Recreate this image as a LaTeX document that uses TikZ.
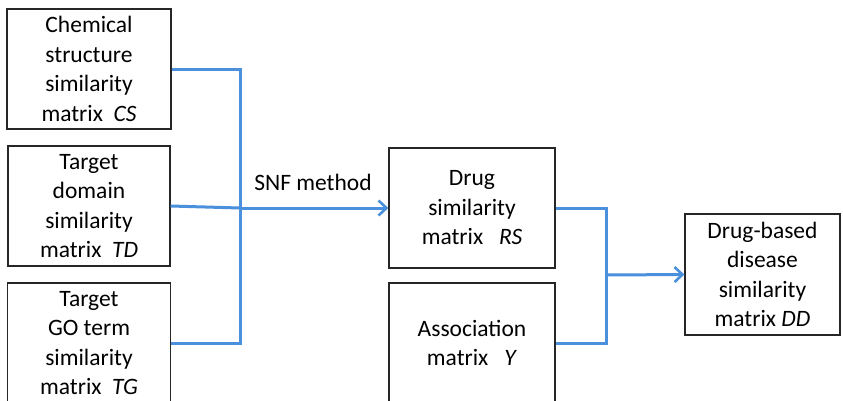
\documentclass[tikz,border=0pt]{standalone}
\usepackage{fontspec}
\setmainfont{Carlito}
\usetikzlibrary{arrows.meta}
\definecolor{linkblue}{HTML}{4A90DC}
\tikzset{
  box/.style={draw=black!85, line width=1.2pt, rectangle, inner sep=0pt, align=center,
    font=\fontsize{23.5}{29.5}\selectfont},
  conn/.style={draw=linkblue, line width=3pt},
  arr/.style={conn, -{Straight Barb[length=8pt,width=15pt,line width=2.6pt]}}
}
\begin{document}
\begin{tikzpicture}[x=1pt,y=-1pt]
\clip (0,0) rectangle (843,400);
\fill[white] (0,0) rectangle (843,400);
\node[box, minimum width=164pt, minimum height=120pt] (CS) at (89,69) {Chemical\\structure\\similarity\\matrix\ \ \textit{CS}};
\node[box, minimum width=162pt, minimum height=120pt] (TD) at (89,206) {Target\\domain\\similarity\\matrix\ \ \textit{TD}};
\node[box, minimum width=163pt, minimum height=120pt] (TG) at (89,343) {Target\\GO term\\similarity\\matrix\ \ \textit{TG}};
\node[box, minimum width=166pt, minimum height=120pt] (RS) at (472,208) {Drug\\similarity\\matrix\ \ \ \textit{RS}};
\node[box, minimum width=166pt, minimum height=120pt] (Y) at (472,343) {Association\\matrix\ \ \ \textit{Y}};
\node[box, minimum width=155pt, minimum height=121pt] (DD) at (762.5,274.5) {Drug-based\\disease\\similarity\\matrix \textit{DD}};
\node[font=\fontsize{23.5}{27}\selectfont, inner sep=0pt] (snf) at (313,182) {SNF method};
\coordinate (j) at (240,208);
\coordinate (k) at (606,275);
\draw[conn] (CS.east) -| (j);
\draw[conn] (TG.east) -| (j);
\draw[conn] (TD.east) -- (j);
\draw[arr] (j) -- (RS.west);
\draw[conn] (RS.east) -| (k);
\draw[conn] (Y.east) -| (k);
\draw[arr] (k) -- (DD.west);
\end{tikzpicture}
\end{document}
